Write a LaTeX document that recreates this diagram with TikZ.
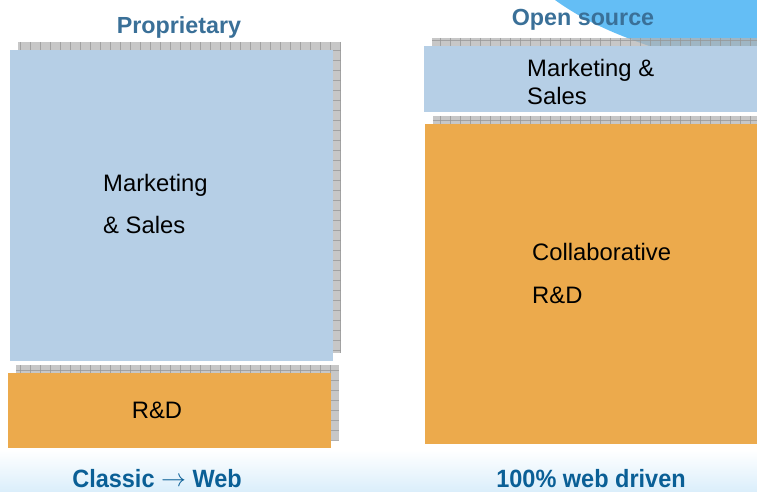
\documentclass[tikz,border=0pt]{standalone}
\usepackage{fontspec}
\setmainfont{Liberation Sans}
\newfontfamily\narrowfont[FakeStretch=0.94]{Liberation Sans}

\definecolor{boxblue}{RGB}{182,207,230}
\definecolor{boxorange}{RGB}{236,170,76}
\definecolor{shadowgray}{RGB}{180,180,180}
\definecolor{gridgray}{RGB}{150,150,150}
\definecolor{titleblue}{RGB}{58,112,152}
\definecolor{footblue}{RGB}{10,95,150}
\definecolor{swoosh}{RGB}{100,190,245}
\definecolor{footshade}{RGB}{218,238,251}

% hatched drop shadow: x1 y1 x2 y2
\newcommand{\gridshadow}[4]{%
  \begin{scope}[fill opacity=0.75, draw opacity=0.75]
    \fill[shadowgray] (#1,#2) rectangle (#3,#4);
    \clip (#1,#2) rectangle (#3,#4);
    \foreach \gx in {0,10,...,760} \draw[gridgray, line width=0.7pt] (\gx,#2) -- (\gx,#4);
    \foreach \gy in {0,10,...,500} \draw[gridgray, line width=0.7pt] (#1,\gy) -- (#3,\gy);
  \end{scope}}

\tikzset{
  boxtext/.style={font=\fontsize{23.8}{27}\selectfont, inner sep=0pt},
  titletext/.style={font=\fontsize{23.3}{27}\selectfont\bfseries, text=titleblue, inner sep=0pt},
  foottext/.style={font=\fontsize{25}{29}\selectfont\narrowfont\bfseries, text=footblue, inner sep=0pt}
}

\begin{document}
\begin{tikzpicture}[x=1pt, y=-1pt]
    \useasboundingbox (0,0) rectangle (757,492);
    % background swoosh and footer band
    \fill[swoosh] (555,0) .. controls (580,18) and (608,32) .. (655,48) -- (757,48) -- (757,0) -- cycle;
    \shade[top color=white, bottom color=footshade] (0,450) rectangle (757,492);

    % proprietary column
    \gridshadow{18}{42}{341}{353}
    \fill[boxblue] (10,50) rectangle (333,361);
    \gridshadow{16}{365}{339}{440}
    \fill[boxorange] (8,373) rectangle (331,448);

    % open source column
    \gridshadow{432}{38}{760}{104}
    \fill[boxblue] (424,46) rectangle (757,112);
    \gridshadow{433}{116}{760}{436}
    \fill[boxorange] (425,124) rectangle (757,444);

    % labels
    \node[titletext, anchor=base] (proptitle) at (179,34) {Proprietary};
    \node[titletext, anchor=base] (opentitle) at (583,26) {Open source};
    \node[boxtext, anchor=base west] (mktleft1) at (103,191) {Marketing};
    \node[boxtext, anchor=base west] (mktleft2) at (103,233) {\& Sales};
    \node[boxtext, anchor=base] (rdleft) at (157,418) {R\&D};
    \node[boxtext, anchor=base west] (mktright1) at (527,77) {Marketing \&};
    \node[boxtext, anchor=base west] (mktright2) at (527,105) {Sales};
    \node[boxtext, anchor=base west] (rdright1) at (532,260) {Collaborative};
    \node[boxtext, anchor=base west] (rdright2) at (532,303) {R\&D};
    \node[foottext, anchor=base] (footleft) at (157,487) {Classic \raisebox{1pt}{$\rightarrow$} Web};
    \node[foottext, anchor=base] (footright) at (591,487) {100\% web driven};
\end{tikzpicture}
\end{document}
